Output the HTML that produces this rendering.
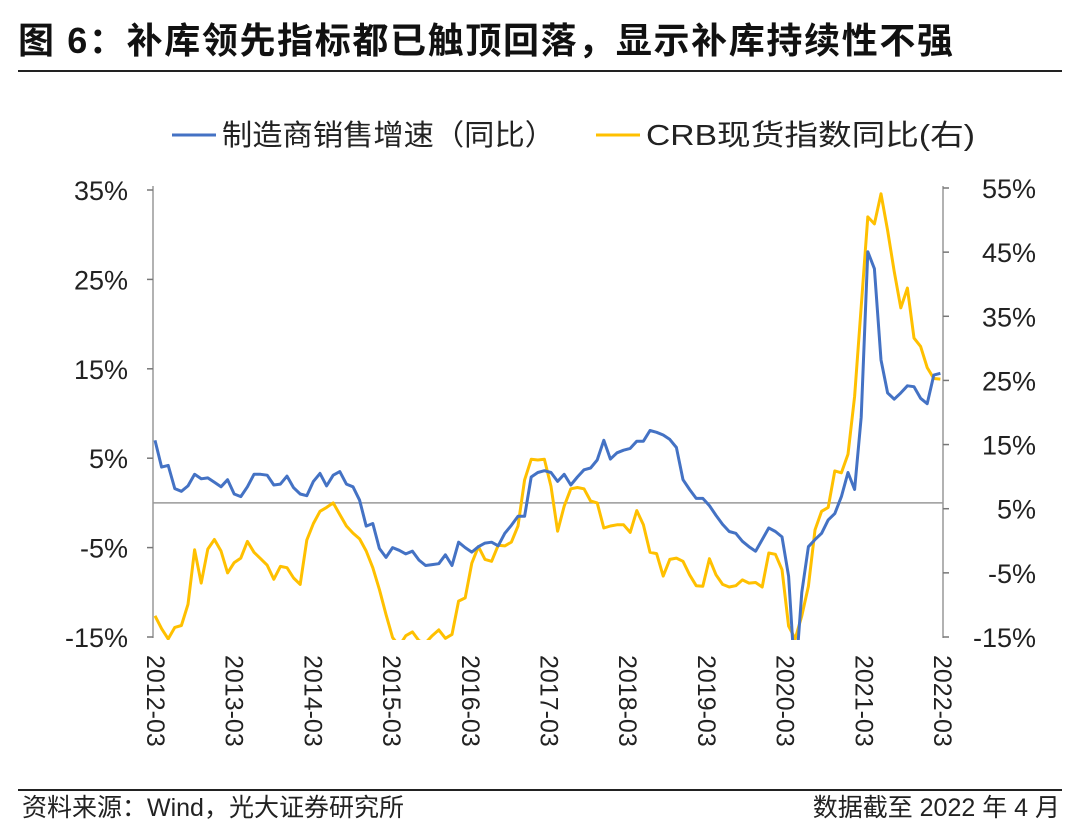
<!DOCTYPE html>
<html><head><meta charset="utf-8">
<style>
body{margin:0;background:#fff;width:1080px;height:825px;overflow:hidden;font-family:"Liberation Sans","Noto Sans CJK SC",sans-serif;}
</style></head>
<body>
<svg id="chart" width="1080" height="825" xmlns="http://www.w3.org/2000/svg" font-family="Liberation Sans, Noto Sans CJK SC, sans-serif">
<text x="18" y="53" font-size="36" font-weight="bold" fill="#111" textLength="935" lengthAdjust="spacing" font-family="Liberation Sans, Noto Sans CJK SC, sans-serif">图 6：补库领先指标都已触顶回落，显示补库持续性不强</text>
<line x1="18" y1="71" x2="1062" y2="71" stroke="#222" stroke-width="2"/>
<g>
<line x1="172" y1="135" x2="216" y2="135" stroke="#4472C4" stroke-width="3"/>
<text x="222" y="145" font-size="29" fill="#222" textLength="333" lengthAdjust="spacingAndGlyphs">制造商销售增速（同比）</text>
<line x1="596" y1="135" x2="640" y2="135" stroke="#FFC000" stroke-width="3"/>
<text x="646" y="145" font-size="29" fill="#222" textLength="329" lengthAdjust="spacingAndGlyphs">CRB现货指数同比(右)</text>
</g>
<defs><clipPath id="plotclip"><rect x="150" y="180" width="800" height="460"/></clipPath></defs>
<g id="axes"></g>
<g id="marks" clip-path="url(#plotclip)"></g>
<line x1="18" y1="790" x2="1062" y2="790" stroke="#222" stroke-width="2"/>
<text x="22" y="816" font-size="25" fill="#222">资料来源：Wind，光大证券研究所</text>
<text x="1060" y="816" font-size="25" fill="#222" text-anchor="end">数据截至 2022 年 4 月</text>
</svg>
<script>
const leftTicks=[35,25,15,5,-5,-15];
const rightTicks=[55,45,35,25,15,5,-5,-15];
const xLabels=["2012-03","2013-03","2014-03","2015-03","2016-03","2017-03","2018-03","2019-03","2020-03","2021-03","2022-03"];
const salesYoY=[7.0,4.0,4.2,1.6,1.3,1.9,3.2,2.7,2.8,2.3,1.8,2.6,1.0,0.7,1.8,3.2,3.2,3.1,2.0,2.1,3.0,1.7,1.0,0.8,2.4,3.3,1.9,3.1,3.5,2.1,1.8,0.3,-2.6,-2.3,-5.1,-6.1,-5.0,-5.3,-5.7,-5.4,-6.4,-7.0,-6.9,-6.8,-5.8,-7.0,-4.4,-5.0,-5.5,-4.9,-4.5,-4.4,-4.8,-3.4,-2.5,-1.5,-1.5,
2.9,3.4,3.6,3.4,2.4,3.2,2.0,2.9,3.7,3.9,4.8,7.0,4.9,5.6,5.9,6.1,6.9,6.9,8.1,7.9,7.6,7.1,6.2,2.6,1.5,0.5,0.5,-0.3,-1.4,-2.4,-3.2,-3.4,-4.3,-4.9,-5.4,-4.1,-2.8,-3.2,-3.8,
-8.2,-20,-10,-4.9,-4.1,-3.4,-1.9,-1.2,0.7,3.4,1.5,9.6,28.1,26.2,16.0,12.3,11.6,12.3,13.1,13.0,11.7,11.1,14.3,14.5];
const crbYoY=[-11.7,-13.7,-15.3,-13.5,-13.2,-9.9,-1.4,-6.6,-1.3,0.2,-1.6,-5.0,-3.4,-2.7,-0.1,-1.8,-2.8,-3.8,-6.0,-4.0,-4.2,-5.8,-6.8,0.1,2.7,4.6,5.2,5.9,4.1,2.3,1.2,0.3,-1.6,-4.2,-7.6,-11.5,-15.1,-16.4,-14.8,-14.2,-15.6,-15.9,-14.8,-13.9,-15.2,-14.6,-9.4,-8.9,-3.5,-0.9,-2.9,-3.2,-0.7,-0.8,-0.2,2.3,9.5,12.7,12.6,12.7,
8.5,1.5,5.4,8.1,8.3,8.1,6.2,5.9,2.0,2.3,2.5,2.5,1.3,4.7,2.5,-1.8,-2.0,-5.5,-2.9,-2.7,-3.2,-5.3,-7.0,-7.1,-2.8,-5.3,-6.8,-7.2,-7.0,-6.1,-6.6,-6.5,-7.2,-1.9,-2.1,-4.5,-13.3,-15.3,-11.7,-7.1,1.7,
4.6,5.2,10.9,10.6,13.5,22.5,36.5,50.5,49.4,54.1,48.4,42.0,36.3,39.4,31.6,30.3,27.0,25.3,25.2];

const NS="http://www.w3.org/2000/svg";
const X0=155, DX=6.6, XL=153, XR=943;
function xScale(i){return X0+i*DX;}
function yLeft(v){return 637-(v+15)*(637-190)/50;}
function yRight(v){return 637-(v+15)*(637-188)/70;}
function mk(tag,attrs,parent){const e=document.createElementNS(NS,tag);for(const k in attrs)e.setAttribute(k,attrs[k]);parent.appendChild(e);return e;}
const axes=document.getElementById('axes'), marks=document.getElementById('marks');

let e=mk('line',{x1:XL,y1:186,x2:XL,y2:638,stroke:'#999','stroke-width':1.5},axes);


e=mk('line',{x1:XR,y1:186,x2:XR,y2:638,stroke:'#999','stroke-width':1.5},axes);


e=mk('line',{x1:XL,y1:yLeft(0),x2:XR,y2:yLeft(0),stroke:'#999','stroke-width':1.5},axes);



leftTicks.forEach(v=>{
  const y=yLeft(v);
  const t=mk('line',{x1:XL-6,y1:y,x2:XL,y2:y,stroke:'#777','stroke-width':1.5},axes);
  
  
  const l=mk('text',{x:128,y:y+10,'font-size':27,fill:'#222','text-anchor':'end'},axes);
  l.textContent=v+'%';
  
  
});
rightTicks.forEach(v=>{
  const y=yRight(v);
  const t=mk('line',{x1:XR,y1:y,x2:XR+6,y2:y,stroke:'#777','stroke-width':1.5},axes);
  
  
  const l=mk('text',{x:1036,y:y+10,'font-size':27,fill:'#222','text-anchor':'end'},axes);
  l.textContent=v+'%';
  
  
});
xLabels.forEach((s,k)=>{
  const x=155+k*78.7;
  const l=mk('text',{x:x,y:655,'font-size':25,fill:'#222','dominant-baseline':'central',transform:`rotate(90 ${x} 655)`},axes);
  l.textContent=s;
  
  
});

function path(arr,ys){return arr.map((v,i)=>(i?'L':'M')+xScale(i).toFixed(1)+' '+ys(v).toFixed(1)).join(' ');}
let p=mk('path',{d:path(crbYoY,yRight),fill:'none',stroke:'#FFC000','stroke-width':3,'stroke-linejoin':'round'},marks);


p=mk('path',{d:path(salesYoY,yLeft),fill:'none',stroke:'#4472C4','stroke-width':3,'stroke-linejoin':'round'},marks);


</script>
</body></html>
